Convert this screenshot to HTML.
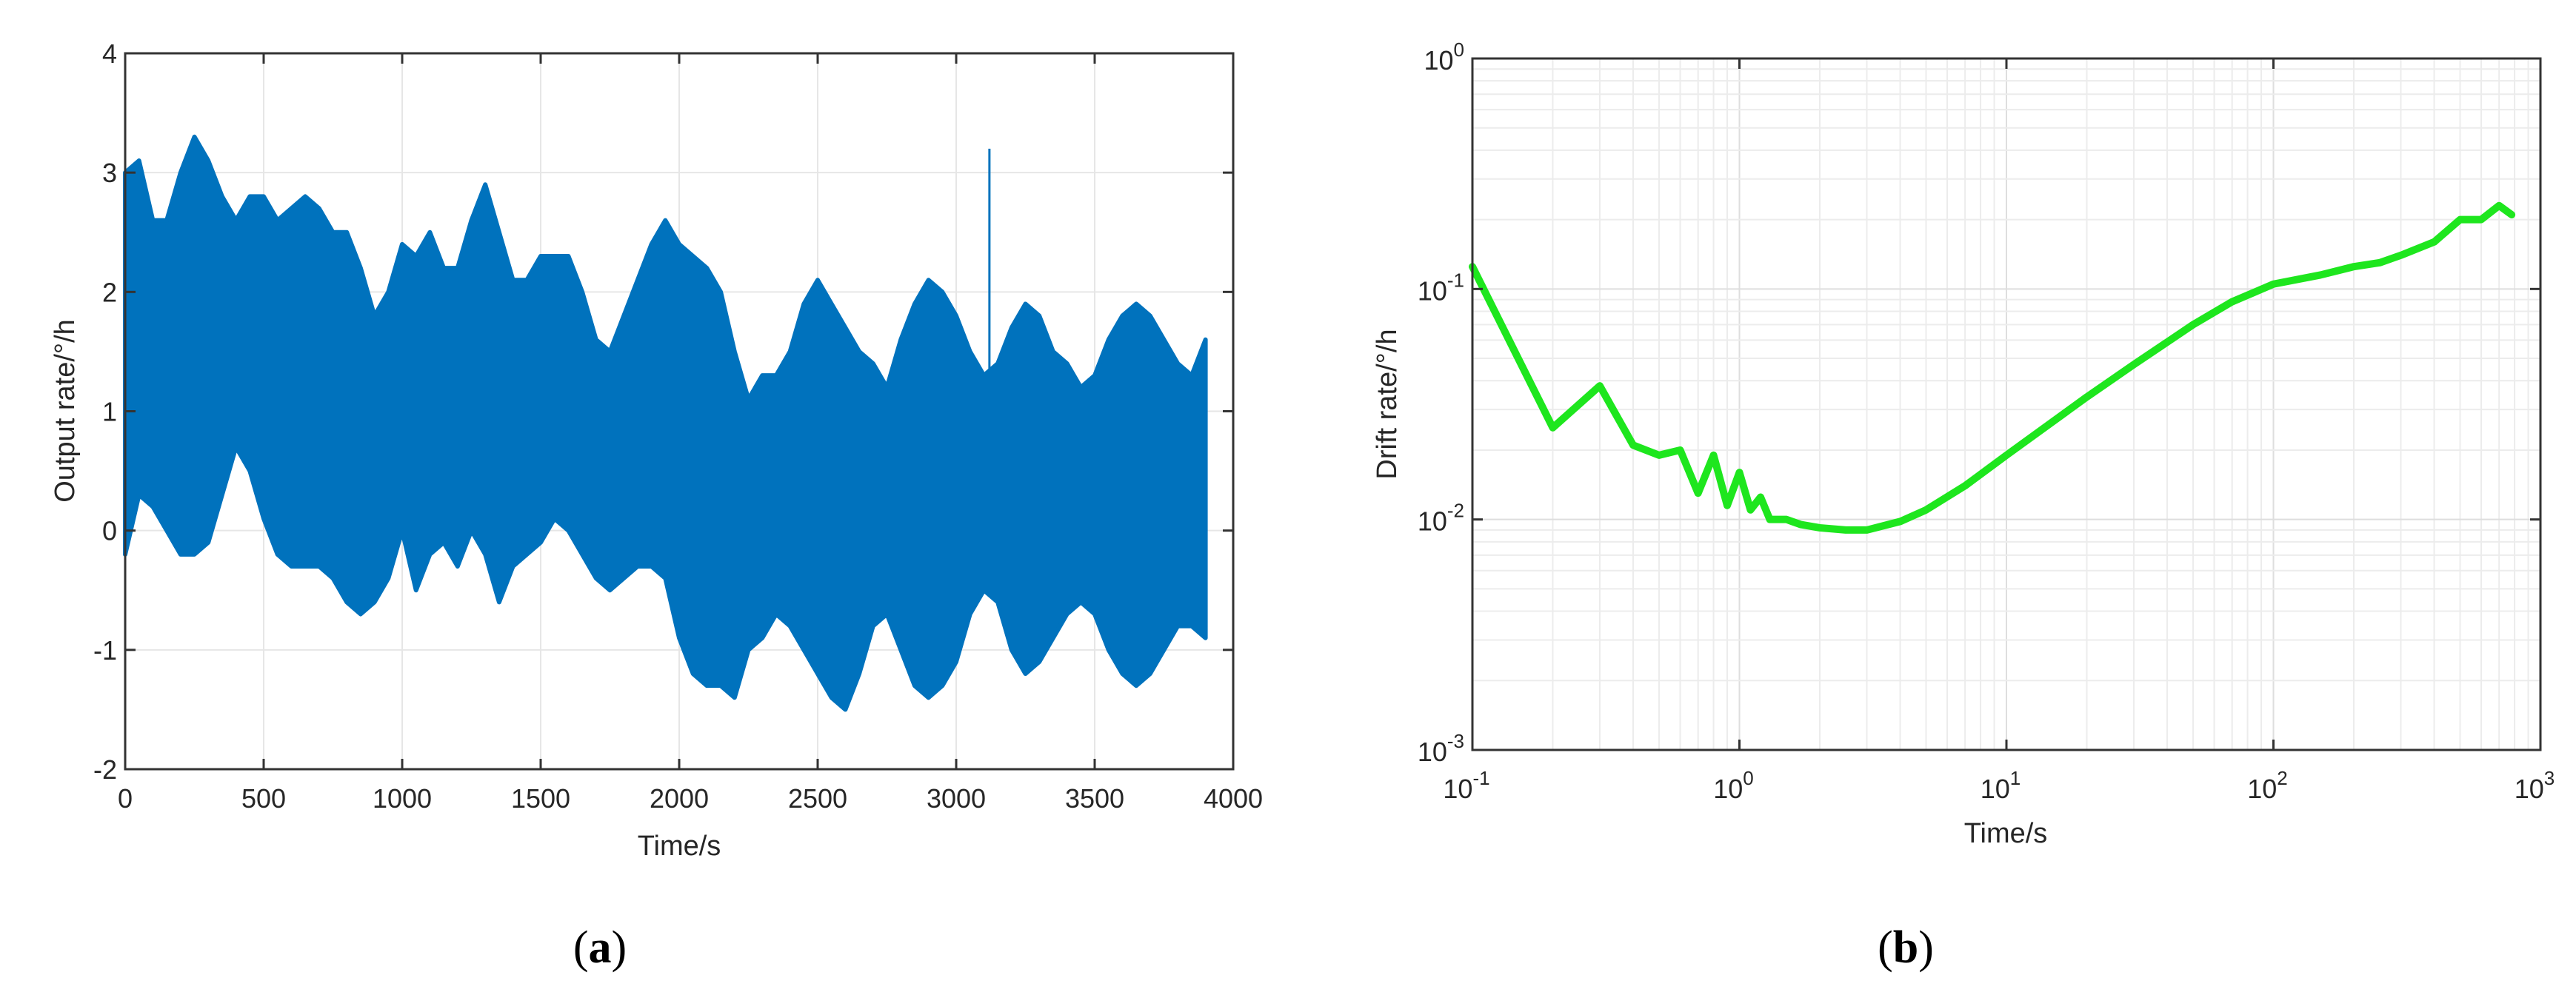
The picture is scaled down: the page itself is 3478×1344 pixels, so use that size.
<!DOCTYPE html>
<html><head><meta charset="utf-8"><style>
body{margin:0;background:#fff;}
svg{display:block;font-family:"Liberation Sans",sans-serif;}
</style></head><body>
<svg id="fig" width="3478" height="1344" viewBox="0 0 3478 1344"></svg>
<script>
// ---- Panel (a) data: envelope of output rate every 50 s ----
const aTimes = [0,50,100,150,200,250,300,350,400,450,500,550,600,650,700,750,800,850,900,950,1000,1050,1100,1150,1200,1250,1300,1350,1400,1450,1500,1550,1600,1650,1700,1750,1800,1850,1900,1950,2000,2050,2100,2150,2200,2250,2300,2350,2400,2450,2500,2550,2600,2650,2700,2750,2800,2850,2900,2950,3000,3050,3100,3150,3200,3250,3300,3350,3400,3450,3500,3550,3600,3650,3700,3750,3800,3850,3900];
const aUpper = [3.0,3.1,2.6,2.6,3.0,3.3,3.1,2.8,2.6,2.8,2.8,2.6,2.7,2.8,2.7,2.5,2.5,2.2,1.8,2.0,2.4,2.3,2.5,2.2,2.2,2.6,2.9,2.5,2.1,2.1,2.3,2.3,2.3,2.0,1.6,1.5,1.8,2.1,2.4,2.6,2.4,2.3,2.2,2.0,1.5,1.1,1.3,1.3,1.5,1.9,2.1,1.9,1.7,1.5,1.4,1.2,1.6,1.9,2.1,2.0,1.8,1.5,1.3,1.4,1.7,1.9,1.8,1.5,1.4,1.2,1.3,1.6,1.8,1.9,1.8,1.6,1.4,1.3,1.6];
const aLower = [-0.2,0.3,0.2,0.0,-0.2,-0.2,-0.1,0.3,0.7,0.5,0.1,-0.2,-0.3,-0.3,-0.3,-0.4,-0.6,-0.7,-0.6,-0.4,0.0,-0.5,-0.2,-0.1,-0.3,0.0,-0.2,-0.6,-0.3,-0.2,-0.1,0.1,0.0,-0.2,-0.4,-0.5,-0.4,-0.3,-0.3,-0.4,-0.9,-1.2,-1.3,-1.3,-1.4,-1.0,-0.9,-0.7,-0.8,-1.0,-1.2,-1.4,-1.5,-1.2,-0.8,-0.7,-1.0,-1.3,-1.4,-1.3,-1.1,-0.7,-0.5,-0.6,-1.0,-1.2,-1.1,-0.9,-0.7,-0.6,-0.7,-1.0,-1.2,-1.3,-1.2,-1.0,-0.8,-0.8,-0.9];
const aSpikeT = [3120];
const aSpikeV = [3.2];
const aXTicks = [0,500,1000,1500,2000,2500,3000,3500,4000];
const aYTicks = [-2,-1,0,1,2,3,4];
// ---- Panel (b) data: Allan deviation ----
const bTau = [0.1,0.2,0.3,0.4,0.5,0.6,0.7,0.8,0.9,1.0,1.1,1.2,1.3,1.5,1.7,2,2.5,3,4,5,7,10,20,30,50,70,100,150,200,250,300,400,500,600,700,780];
const bDev = [0.125,0.025,0.038,0.021,0.019,0.02,0.013,0.019,0.0115,0.016,0.011,0.0125,0.010,0.010,0.0095,0.0092,0.009,0.009,0.0098,0.011,0.014,0.019,0.034,0.047,0.07,0.088,0.105,0.115,0.125,0.13,0.14,0.16,0.2,0.2,0.23,0.21];
const bXExp = [-1,0,1,2,3];
const bYExp = [-3,-2,-1,0];

const NS="http://www.w3.org/2000/svg";
const svg=document.getElementById('fig');
function mk(tag,attrs,parent){const e=document.createElementNS(NS,tag);for(const k in attrs)e.setAttribute(k,attrs[k]);(parent||svg).appendChild(e);return e;}

// ===== Panel (a) =====
const A={l:169,r:1665,t:72,b:1039};
const ax=t=>A.l+(t-0)/(4000-0)*(A.r-A.l);
const ay=v=>A.b-(v-(-2))/(4-(-2))*(A.b-A.t);
const ga=mk('g',{});


aXTicks.forEach(t=>{const l=mk('line',{x1:ax(t),x2:ax(t),y1:A.t,y2:A.b,stroke:'#e6e6e6','stroke-width':2},ga);});
aYTicks.forEach(v=>{const l=mk('line',{x1:A.l,x2:A.r,y1:ay(v),y2:ay(v),stroke:'#e6e6e6','stroke-width':2},ga);});
let pts=[];
aTimes.forEach((t,i)=>pts.push(ax(t)+','+ay(aUpper[i])));
for(let i=aTimes.length-1;i>=0;i--)pts.push(ax(aTimes[i])+','+ay(aLower[i]));
const band=mk('polygon',{points:pts.join(' '),fill:'#0072bd',stroke:'#0072bd','stroke-width':6,'stroke-linejoin':'round'},ga);


aSpikeT.forEach((t,i)=>{const s=mk('line',{x1:ax(t),x2:ax(t),y1:ay(0.5),y2:ay(aSpikeV[i]),stroke:'#0072bd','stroke-width':3},ga);});
const fa=mk('rect',{x:A.l,y:A.t,width:A.r-A.l,height:A.b-A.t,fill:'none',stroke:'#333','stroke-width':3},ga);

aXTicks.forEach(t=>{mk('line',{x1:ax(t),x2:ax(t),y1:A.b,y2:A.b-14,stroke:'#333','stroke-width':3},ga);mk('line',{x1:ax(t),x2:ax(t),y1:A.t,y2:A.t+14,stroke:'#333','stroke-width':3},ga);
 const tx=mk('text',{x:ax(t),y:1091,'text-anchor':'middle','font-size':36,fill:'#262626'},ga);tx.textContent=t;});
aYTicks.forEach(v=>{mk('line',{x1:A.l,x2:A.l+14,y1:ay(v),y2:ay(v),stroke:'#333','stroke-width':3},ga);mk('line',{x1:A.r,x2:A.r-14,y1:ay(v),y2:ay(v),stroke:'#333','stroke-width':3},ga);
 const tx=mk('text',{x:158,y:ay(v)+13,'text-anchor':'end','font-size':36,fill:'#262626'},ga);tx.textContent=v;});
let t1=mk('text',{x:917,y:1155,'text-anchor':'middle','font-size':38,fill:'#262626'},ga);t1.textContent='Time/s';

let t2=mk('text',{x:0,y:0,transform:'translate(100,555) rotate(-90)','text-anchor':'middle','font-size':38,fill:'#262626'},ga);t2.textContent='Output rate/°/h';

let ca=mk('text',{x:810,y:1300,'text-anchor':'middle','font-size':62,fill:'#000','font-family':'Liberation Serif, serif'},ga);
ca.innerHTML='(<tspan font-weight="bold">a</tspan>)';


// ===== Panel (b) =====
const B={l:1988,r:3430,t:79,b:1013};
const bx=t=>B.l+(Math.log10(t)-(-1))/4*(B.r-B.l);
const by=v=>B.b-(Math.log10(v)-(-3))/3*(B.b-B.t);
const gb=mk('g',{});


for(let e=-1;e<3;e++)for(let m=1;m<10;m++){const t=m*Math.pow(10,e);const l=mk('line',{x1:bx(t),x2:bx(t),y1:B.t,y2:B.b,stroke:m==1?'#dedede':'#ececec','stroke-width':2},gb);}
for(let e=-3;e<0;e++)for(let m=1;m<10;m++){const v=m*Math.pow(10,e);const l=mk('line',{x1:B.l,x2:B.r,y1:by(v),y2:by(v),stroke:m==1?'#dedede':'#ececec','stroke-width':2},gb);}
const dpts=bTau.map((t,i)=>bx(t)+','+by(bDev[i])).join(' ');
const ln=mk('polyline',{points:dpts,fill:'none',stroke:'#1ee61e','stroke-width':10,'stroke-linejoin':'round','stroke-linecap':'round'},gb);

const fb=mk('rect',{x:B.l,y:B.t,width:B.r-B.l,height:B.b-B.t,fill:'none',stroke:'#333','stroke-width':3},gb);

bXExp.forEach(e=>{const x=bx(Math.pow(10,e));mk('line',{x1:x,x2:x,y1:B.b,y2:B.b-14,stroke:'#333','stroke-width':3},gb);mk('line',{x1:x,x2:x,y1:B.t,y2:B.t+14,stroke:'#333','stroke-width':3},gb);
 const tx=mk('text',{x:x-8,y:1078,'text-anchor':'middle','font-size':36,fill:'#262626'},gb);tx.innerHTML='10<tspan dy="-18" font-size="26">'+e+'</tspan>';});
bYExp.forEach(e=>{const y=by(Math.pow(10,e));mk('line',{x1:B.l,x2:B.l+14,y1:y,y2:y,stroke:'#333','stroke-width':3},gb);mk('line',{x1:B.r,x2:B.r-14,y1:y,y2:y,stroke:'#333','stroke-width':3},gb);
 const tx=mk('text',{x:1977,y:y+15,'text-anchor':'end','font-size':36,fill:'#262626'},gb);tx.innerHTML='10<tspan dy="-18" font-size="26">'+e+'</tspan>';});
let t3=mk('text',{x:2708,y:1138,'text-anchor':'middle','font-size':38,fill:'#262626'},gb);t3.textContent='Time/s';

let t4=mk('text',{x:0,y:0,transform:'translate(1885,546) rotate(-90)','text-anchor':'middle','font-size':38,fill:'#262626'},gb);t4.textContent='Drift rate/°/h';

let cb=mk('text',{x:2573,y:1300,'text-anchor':'middle','font-size':62,fill:'#000','font-family':'Liberation Serif, serif'},gb);
cb.innerHTML='(<tspan font-weight="bold">b</tspan>)';

</script>
</body></html>
